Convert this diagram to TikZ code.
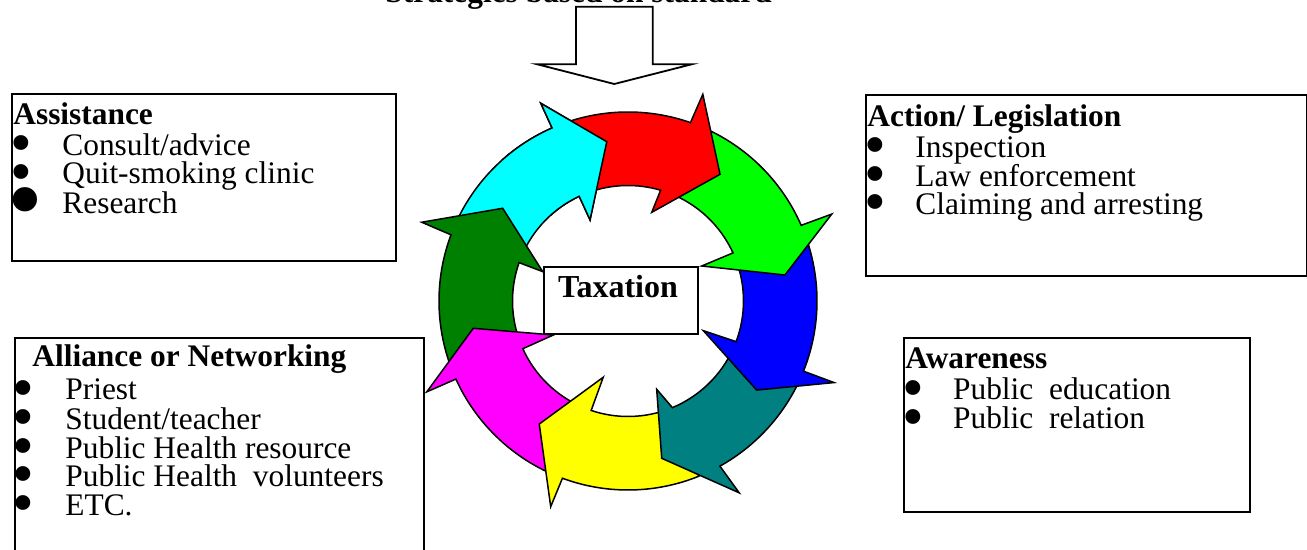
\documentclass[tikz,border=0pt]{standalone}
\usepackage{fontspec}
\setmainfont{Liberation Serif}
\newcommand\cycR{189}
\newcommand\cycr{115.5}
\newcommand\cycarrow[9]{\filldraw[cyc] (#1:\cycR) arc[start angle=#1,end angle=#2,radius=\cycR] -- (#3:#4) -- (#5:#6) -- (#7:#8) -- (#9:\cycr) arc[start angle=#9,end angle=#1,radius=\cycr] -- cycle;}
\newcommand\bulsmall{\hspace{-0.7pt}{\fontsize{31}{31}\selectfont\raisebox{-4.05pt}[0pt][0pt]{•}}}
\newcommand\bulbig{\hspace{-2pt}{\fontsize{51}{51}\selectfont\raisebox{-10pt}[0pt][0pt]{•}}}
\definecolor{cyccyan}{RGB}{0,255,255}
\definecolor{cycred}{RGB}{255,0,0}
\definecolor{cycgreen}{RGB}{0,255,0}
\definecolor{cycblue}{RGB}{0,0,255}
\definecolor{cycteal}{RGB}{0,128,128}
\definecolor{cycyellow}{RGB}{255,255,0}
\definecolor{cycmagenta}{RGB}{255,0,255}
\definecolor{cycdkgreen}{RGB}{0,128,0}
\colorlet{curcol}{white}
\begin{document}
\begin{tikzpicture}[x=0.5pt,y=-0.5pt,
  box/.style={draw=black,line width=1pt,fill=white,inner sep=0pt,anchor=north west},
  titletext/.style={anchor=base west,inner sep=0pt,font=\fontsize{15.7}{15.7}\selectfont\bfseries},
  itemtext/.style={anchor=base west,inner sep=0pt,font=\fontsize{15.7}{15.7}\selectfont},
  cyc/.style={fill=curcol,draw=black,line width=0.75pt,line join=miter}]
\useasboundingbox (0,0) rectangle (1307,550);

% top heading (cut off by the page edge)
\node[titletext] (heading) at (385,3) {Strategies based on standard};

% big down arrow
\draw[fill=white,line width=0.9pt,line join=miter] (576,6.7) -- (652.7,6.7) -- (652.7,64.3) -- (691.7,64.3) -- (614.3,84) -- (537.3,64.3) -- (576,64.3) -- cycle;

% cycle of arrows
\begin{scope}[shift={(628,301)}]
\colorlet{curcol}{cyccyan}
\cycarrow{203}{246.3}{246.2}{216.1}{262.4}{160.7}{244.9}{89.5}{245.0}
\colorlet{curcol}{cycdkgreen}
\cycarrow{158}{200.5}{200.9}{220.8}{216.5}{155.9}{199}{90.2}{199.4}
\colorlet{curcol}{cycmagenta}
\cycarrow{113}{155.6}{155.7}{220.8}{170}{157.1}{155.5}{82}{155.6}
\colorlet{curcol}{cycyellow}
\cycarrow{68}{110.3}{110.6}{219.7}{125.8}{151.7}{108}{80.2}{108.6}
\colorlet{curcol}{cycteal}
\cycarrow{25}{60.9}{59.9}{221.7}{77.9}{160.9}{72.0}{92.8}{67.4}
\colorlet{curcol}{cycblue}
\cycarrow{339}{381.8}{381.6}{221.6}{394.7}{156.5}{381.5}{81}{380.6}
\colorlet{curcol}{cycgreen}
\cycarrow{291}{336.4}{336.9}{221.5}{350.6}{159.1}{334.6}{81.6}{335.4}
\colorlet{curcol}{cycred}
\cycarrow{250}{289.3}{289.9}{219.8}{306.0}{156.6}{285.0}{91.8}{286.4}
\begin{scope}
\clip (0,0) -- (228:270) arc[start angle=228,end angle=278,radius=270] -- cycle;
\colorlet{curcol}{cyccyan}
\cycarrow{203}{246.3}{246.2}{216.1}{262.4}{160.7}{244.9}{89.5}{245.0}
\end{scope}
\end{scope}

% centre box
\node[box,line width=0.8pt,minimum width=77pt,minimum height=33.5pt] (tax) at (543,266) {};
\node[anchor=base,inner sep=0pt,font=\fontsize{16}{16}\selectfont\bfseries] (taxlabel) at (618,298) {Taxation};

% Assistance
\node[box,minimum width=192pt,minimum height=83.5pt] (assist) at (11,93) {};
\node[titletext] (assistT) at (13,124.3) {Assistance};
\node[itemtext] (assistI1) at (11,155.7) {\makebox[25.5pt][l]{\bulsmall}Consult/advice};
\node[itemtext] (assistI2) at (11,184) {\makebox[25.5pt][l]{\bulsmall}Quit-smoking clinic};
\node[itemtext] (assistI3) at (11,213.3) {\makebox[25.5pt][l]{\bulbig}Research};

% Action / Legislation
\node[box,minimum width=220.25pt,minimum height=90.5pt] (action) at (865,94) {};
\node[titletext] (actionT) at (867,126.7) {Action/ Legislation};
\node[itemtext] (actionI1) at (865,157.7) {\makebox[25pt][l]{\bulsmall}Inspection};
\node[itemtext] (actionI2) at (865,186.7) {\makebox[25pt][l]{\bulsmall}Law enforcement};
\node[itemtext] (actionI3) at (865,214.3) {\makebox[25pt][l]{\bulsmall}Claiming and arresting};

% Alliance or Networking
\node[box,minimum width=204.5pt,minimum height=110pt] (alliance) at (14,337) {};
\node[titletext] (allianceT) at (32,366.7) {Alliance or Networking};
\node[itemtext] (allianceI1) at (13,400) {\makebox[26pt][l]{\bulsmall}Priest};
\node[itemtext] (allianceI2) at (13,429.3) {\makebox[26pt][l]{\bulsmall}Student/teacher};
\node[itemtext] (allianceI3) at (13,458.3) {\makebox[26pt][l]{\bulsmall}Public Health resource};
\node[itemtext] (allianceI4) at (13,486.7) {\makebox[26pt][l]{\bulsmall}Public Health~ volunteers};
\node[itemtext] (allianceI5) at (13,515.7) {\makebox[26pt][l]{\bulsmall}ETC.};

% Awareness
\node[box,minimum width=173pt,minimum height=87pt] (aware) at (903,337) {};
\node[titletext] (awareT) at (905,368.3) {Awareness};
\node[itemtext] (awareI1) at (903,400) {\makebox[24.85pt][l]{\bulsmall}Public~ education};
\node[itemtext] (awareI2) at (903,429) {\makebox[24.85pt][l]{\bulsmall}Public~ relation};
\end{tikzpicture}
\end{document}
